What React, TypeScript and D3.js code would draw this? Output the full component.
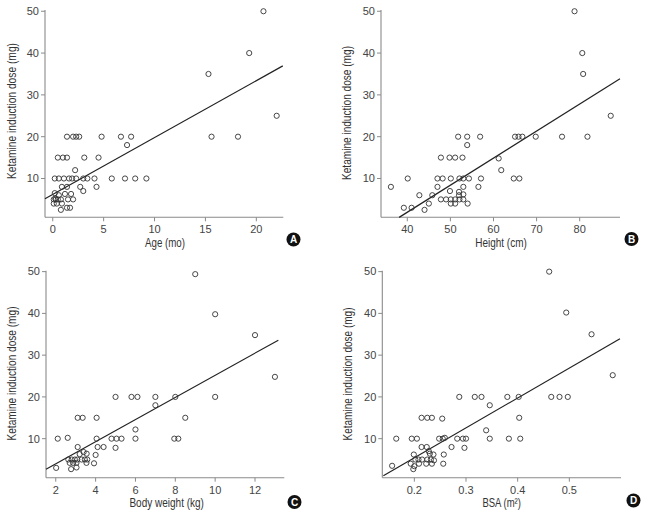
import React from "react";
import * as d3 from "d3";

// ---- Data (x, Ketamine induction dose mg) ----
const ageData: number[][] = [
  [20.7, 50], [19.3, 40], [15.3, 35], [22.0, 25],
  [15.6, 20], [18.2, 20], [1.4, 20], [2.0, 20], [2.3, 20], [2.6, 20], [4.8, 20], [6.7, 20], [7.7, 20],
  [7.3, 18],
  [0.5, 15], [1.0, 15], [1.4, 15], [3.1, 15], [4.5, 15],
  [2.2, 12],
  [0.2, 10], [0.6, 10], [1.1, 10], [1.6, 10], [1.9, 10], [2.3, 10], [3.0, 10], [3.4, 10], [4.1, 10], [5.8, 10], [7.1, 10], [8.1, 10], [9.2, 10],
  [0.9, 8], [1.4, 8], [2.7, 8], [4.3, 8],
  [3.0, 7],
  [0.2, 6.5], [1.2, 6.3], [1.8, 6.3], [0.6, 6],
  [0.1, 5], [0.3, 5], [0.5, 5], [0.8, 5], [1.5, 5], [2.0, 5], [0.25, 5.2],
  [0.1, 4], [0.4, 4], [0.9, 4],
  [1.4, 3], [1.7, 3],
  [0.8, 2.5],
];

const heightData: number[][] = [
  [78.8, 50], [80.6, 40], [80.8, 35], [87.2, 25],
  [51.8, 20], [53.9, 20], [56.9, 20], [65.0, 20], [65.8, 20], [66.7, 20], [69.8, 20], [75.9, 20], [81.8, 20],
  [53.9, 18],
  [47.8, 15], [49.8, 15], [51.1, 15], [52.8, 15], [61.2, 14.8],
  [61.8, 12],
  [40.1, 10], [47.0, 10], [48.2, 10], [50.1, 10], [52.1, 10], [53.0, 10], [54.3, 10], [57.1, 10], [64.7, 10], [66.0, 10],
  [36.2, 8], [47.0, 8], [53.0, 8], [56.5, 8],
  [49.9, 7], [52.0, 6.8],
  [42.8, 6], [45.8, 6], [52.0, 6], [53.0, 6.2],
  [47.8, 5], [49.0, 5], [50.1, 5], [51.1, 5], [52.1, 5], [53.0, 5],
  [45.0, 4], [50.1, 4], [51.1, 4], [54.0, 4],
  [39.2, 3], [41.0, 3],
  [44.0, 2.5],
];

const weightData: number[][] = [
  [9.0, 49.4], [10.0, 39.8], [12.0, 34.8], [13.0, 24.8],
  [5.0, 20], [5.8, 20], [6.1, 20], [7.0, 20], [8.0, 20], [10.0, 20],
  [7.0, 18],
  [3.1, 15], [3.35, 15], [4.05, 15], [8.5, 15],
  [6.0, 12.2],
  [2.1, 10], [2.6, 10.2], [4.05, 10], [4.8, 10], [5.05, 10], [5.3, 10], [6.0, 10], [7.95, 10], [8.15, 10],
  [3.1, 8], [4.1, 8], [4.4, 8], [5.0, 7.8],
  [3.4, 6.8], [3.2, 6.3], [3.55, 6.4], [4.0, 6.1],
  [2.63, 5], [2.8, 5], [2.96, 5], [3.08, 5], [3.3, 5], [3.46, 5], [3.58, 5],
  [2.7, 4.2], [2.87, 4.2], [3.04, 4.2], [3.54, 4.2], [3.92, 4.1],
  [2.02, 3], [3.04, 3.1], [2.77, 2.7],
];

const bsaData: number[][] = [
  [0.461, 50], [0.494, 40.2], [0.543, 35], [0.584, 25.2],
  [0.287, 20], [0.317, 20], [0.330, 20], [0.380, 20], [0.402, 20], [0.465, 20], [0.481, 20], [0.497, 20],
  [0.346, 18],
  [0.214, 15], [0.225, 15], [0.234, 15], [0.254, 14.8], [0.403, 15],
  [0.339, 12],
  [0.165, 10], [0.195, 10], [0.205, 10], [0.248, 10], [0.255, 10], [0.259, 10.2], [0.283, 10], [0.294, 10], [0.300, 10], [0.346, 10], [0.383, 10], [0.405, 10],
  [0.214, 8], [0.224, 8], [0.272, 8], [0.297, 7.8],
  [0.228, 7], [0.199, 6.2], [0.23, 6.4], [0.237, 6.2], [0.257, 6.2],
  [0.202, 5], [0.208, 5], [0.215, 5], [0.225, 5], [0.232, 5], [0.238, 4.8],
  [0.193, 4], [0.209, 4], [0.223, 4], [0.234, 4], [0.256, 4],
  [0.157, 3.5], [0.2, 3.4], [0.198, 2.7],
];

// regression: [intercept, slope]
const ageFit = [6.2, 1.36];
const heightFit = [-23.95, 0.647];
const weightFit = [-1.35, 2.653];
const bsaFit = [-8.9, 71.6];

const yTicks = [10, 20, 30, 40, 50];
const ageTicks = [0, 5, 10, 15, 20];
const heightTicks = [40, 50, 60, 70, 80];
const weightTicks = [2, 4, 6, 8, 10, 12];
const bsaTicks = [0.2, 0.3, 0.4, 0.5];

const yTitle = "Ketamine induction dose (mg)";

const TITLE_FONT = "'Liberation Sans', Arial, sans-serif";
const TICK_FONT = "'Liberation Sans', Arial, sans-serif";

type Cfg = {
  data: number[][];
  fit: number[];
  fitX: [number, number];
  xDomain: [number, number];
  xRange: [number, number];
  yDomain: [number, number];
  yRange: [number, number];
  xTicks: number[];
  xLabel: string;
  xLabelLen: number;
  yLabelLen: number;
  letter: string;
  letterPos: [number, number];
  xTitlePos: [number, number];
  yTitlePos: [number, number];
};

function Panel({ c }: { c: Cfg }) {
  const x = d3.scaleLinear().domain(c.xDomain).range(c.xRange);
  const y = d3.scaleLinear().domain(c.yDomain).range(c.yRange);
  const x0 = c.xRange[0];
  const yb = c.yRange[0];
  const line = d3.line<number>()
    .x((v) => x(v))
    .y((v) => y(c.fit[0] + c.fit[1] * v));
  return (
    <g>
      {/* axes */}
      <line x1={x0} x2={x0} y1={c.yRange[1]} y2={yb} stroke="#8a8a8a" strokeWidth={1.1} />
      <line x1={x0} x2={c.xRange[1]} y1={yb} y2={yb} stroke="#8a8a8a" strokeWidth={1.1} />
      {yTicks.map((t) => (
        <g key={"y" + t}>
          <line x1={x0 - 4} x2={x0} y1={y(t)} y2={y(t)} stroke="#8a8a8a" strokeWidth={1} />
          <text x={x0 - 6} y={y(t)} dy="0.35em" textAnchor="end" fontSize={11} fontFamily={TICK_FONT} fill="#444">
            {t}
          </text>
        </g>
      ))}
      {c.xTicks.map((t) => (
        <g key={"x" + t}>
          <line x1={x(t)} x2={x(t)} y1={yb} y2={yb + 4} stroke="#8a8a8a" strokeWidth={1} />
          <text x={x(t)} y={yb + 16} textAnchor="middle" fontSize={11} fontFamily={TICK_FONT} fill="#444">
            {String(t)}
          </text>
        </g>
      ))}
      {/* regression line */}
      <path d={line(c.fitX) || ""} fill="none" stroke="#222" strokeWidth={1.2} />
      {/* points */}
      {c.data.map((d, i) => (
        <circle key={i} cx={x(d[0])} cy={y(d[1])} r={2.6} fill="none" stroke="#333" strokeWidth={0.9} />
      ))}
      {/* titles */}
      <text
        x={c.xTitlePos[0]}
        y={c.xTitlePos[1]}
        textAnchor="middle"
        fontSize={12}
        fontFamily={TITLE_FONT}
        fill="#333"
        textLength={c.xLabelLen}
        lengthAdjust="spacingAndGlyphs"
      >
        {c.xLabel}
      </text>
      <text
        transform={`translate(${c.yTitlePos[0]},${c.yTitlePos[1]}) rotate(-90)`}
        textAnchor="middle"
        fontSize={12}
        fontFamily={TITLE_FONT}
        fill="#333"
        textLength={c.yLabelLen}
        lengthAdjust="spacingAndGlyphs"
      >
        {yTitle}
      </text>
      {/* panel letter */}
      <circle cx={c.letterPos[0]} cy={c.letterPos[1]} r={7} fill="#111" />
      <text x={c.letterPos[0]} y={c.letterPos[1]} dy="0.36em" textAnchor="middle" fontSize={10} fontWeight="bold" fontFamily={TICK_FONT} fill="#fff">
        {c.letter}
      </text>
    </g>
  );
}

const topY: [number, number] = [217.3, 10.0];
const topYDom: [number, number] = [0.72, 50.3];
const botY: [number, number] = [477.7, 270.8];
const botYDom: [number, number] = [0.65, 50.2];

const panels: Cfg[] = [
  {
    data: ageData, fit: ageFit, fitX: [-0.76, 22.6],
    xDomain: [-0.76, 22.65], xRange: [45, 283.3], yDomain: topYDom, yRange: topY,
    xTicks: ageTicks, xLabel: "Age (mo)", xLabelLen: 40, yLabelLen: 136, letter: "A",
    letterPos: [293.5, 239.5], xTitlePos: [165, 246.5], yTitlePos: [15.7, 111],
  },
  {
    data: heightData, fit: heightFit, fitX: [38.1, 89.35],
    xDomain: [33.9, 89.35], xRange: [381, 620], yDomain: topYDom, yRange: topY,
    xTicks: heightTicks, xLabel: "Height (cm)", xLabelLen: 51.5, yLabelLen: 134, letter: "B",
    letterPos: [631.5, 239], xTitlePos: [501, 246.5], yTitlePos: [350.7, 113],
  },
  {
    data: weightData, fit: weightFit, fitX: [1.51, 13.17],
    xDomain: [1.51, 13.47], xRange: [46, 284.3], yDomain: botYDom, yRange: botY,
    xTicks: weightTicks, xLabel: "Body weight (kg)", xLabelLen: 74.5, yLabelLen: 134, letter: "C",
    letterPos: [294.5, 502], xTitlePos: [166.7, 506.5], yTitlePos: [16, 373.5],
  },
  {
    data: bsaData, fit: bsaFit, fitX: [0.14, 0.598],
    xDomain: [0.138, 0.6], xRange: [382.3, 621], yDomain: botYDom, yRange: botY,
    xTicks: bsaTicks, xLabel: "BSA (m²)", xLabelLen: 38.5, yLabelLen: 133, letter: "D",
    letterPos: [633.5, 500.5], xTitlePos: [501.7, 506.5], yTitlePos: [352.3, 374],
  },
];

export default function App() {
  return (
    <svg
      width={645}
      height={518}
      style={{ position: "absolute", left: 0, top: 0, background: "#fff" }}
    >
      <rect width={645} height={518} fill="#fff" />
      {panels.map((p) => (
        <Panel key={p.letter} c={p} />
      ))}
    </svg>
  );
}
